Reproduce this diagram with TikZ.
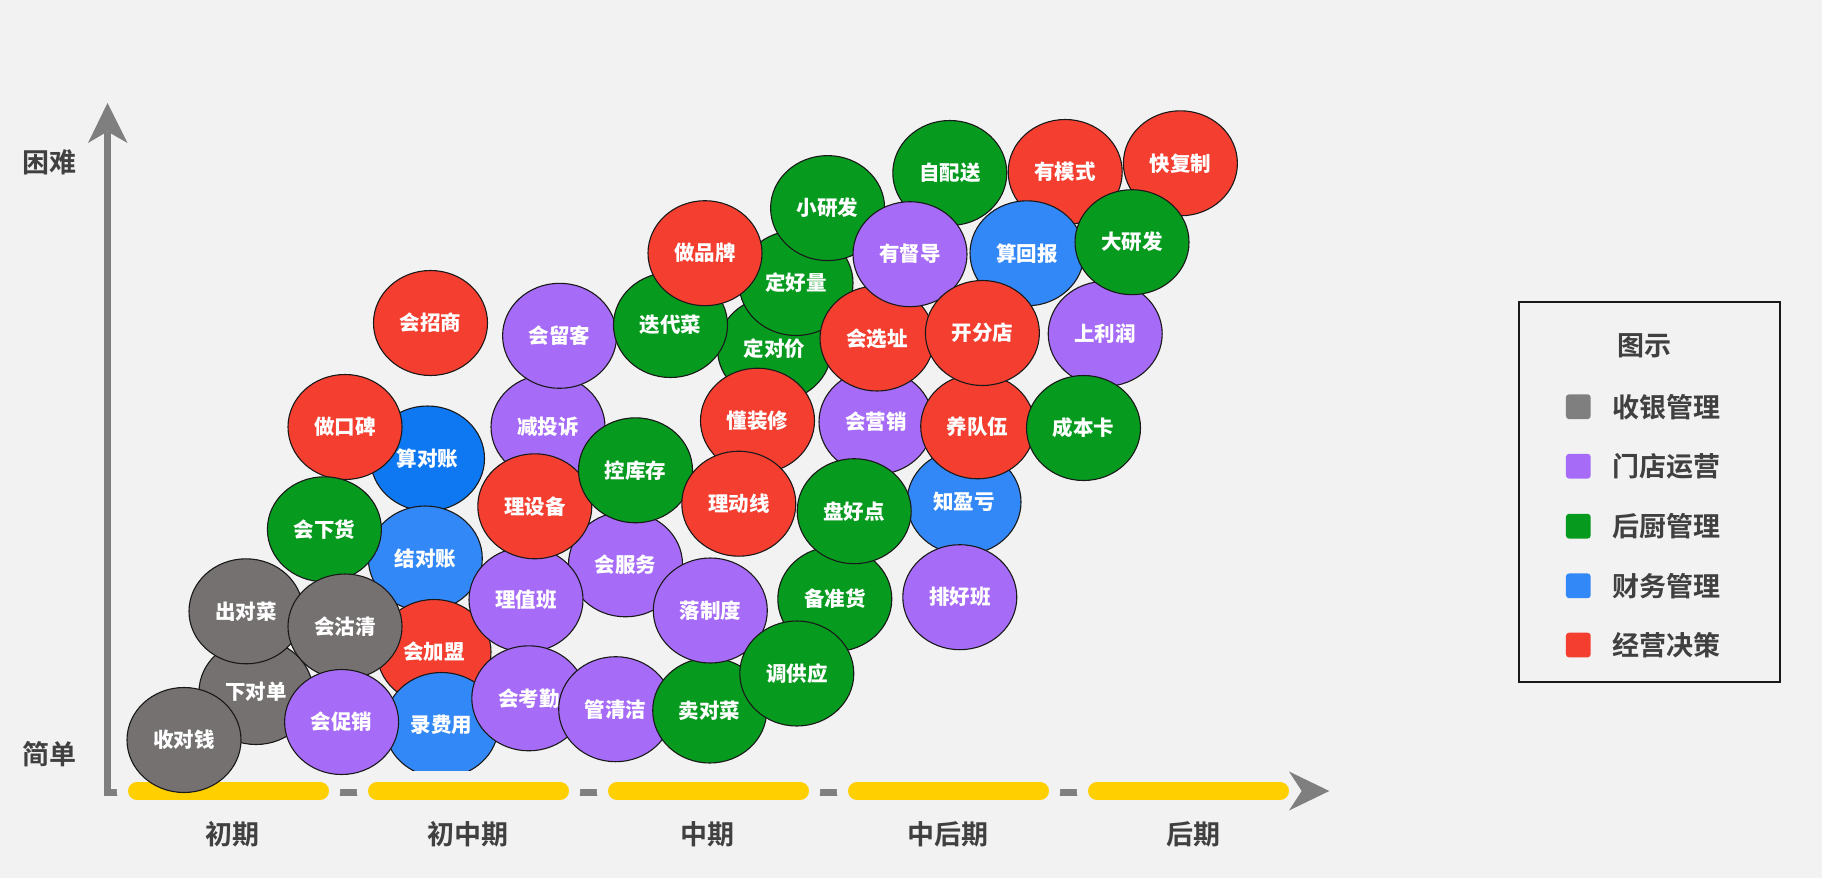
\documentclass[tikz,border=0pt]{standalone}
\usepackage{fontspec}
\setmainfont{Noto Sans CJK SC}[BoldFont={Noto Sans CJK SC Bold}]
\newfontfamily\heavyfont{Noto Sans CJK SC Black}
\usetikzlibrary{shapes.geometric}
\definecolor{bgc}{HTML}{F2F2F2}
\definecolor{cgray}{HTML}{767171}
\definecolor{cpur}{HTML}{A66CF7}
\definecolor{cgrn}{HTML}{069A1F}
\definecolor{cblu}{HTML}{3388F7}
\definecolor{cdblu}{HTML}{0E78F2}
\definecolor{cred}{HTML}{F43E30}
\definecolor{cyel}{HTML}{FFCF00}
\definecolor{caxis}{HTML}{7F7F7F}
\definecolor{ctext}{HTML}{404040}
\definecolor{lgray}{HTML}{7F7F7F}
\tikzset{
  bub/.style={ellipse, draw=black!90, line width=1.1pt, inner sep=0pt,
    minimum width=114pt, minimum height=105pt, text=white,
    font=\fontsize{20.5}{24}\selectfont\heavyfont},
  axlabel/.style={text=ctext, inner sep=0pt, font=\fontsize{27}{30}\selectfont\bfseries},
  lsq/.style={rounded corners=3pt, minimum width=24.7pt, minimum height=24.7pt, inner sep=0pt},
  ltext/.style={anchor=west, text=ctext, inner sep=0pt, font=\fontsize{27}{30}\selectfont\bfseries},
  ybar/.style={cyel, line width=17.7pt, line cap=round},
  ygap/.style={bgc, line width=40pt, line cap=round},
  gline/.style={caxis, line width=7pt}
}
\newcommand\bub[5]{\node[bub, fill=#1] (#2) at (#3,#4) {#5};}
\begin{document}
\begin{tikzpicture}[x=1pt,y=-1pt]
\fill[bgc] (0,0) rectangle (1822,878);
\useasboundingbox (0,0) rectangle (1822,878);
% axes
\coordinate (ytop) at (107.5,132);
\coordinate (orig) at (107.5,792);
\coordinate (xend) at (1300,792);
\draw[gline] (ytop) -- (orig) -- (xend);
% yellow stage bars
\foreach \s in {128,368,608,848,1088}{
  \draw[ygap] (\s+8.85,791) -- (\s+192.15,791);
}
\foreach \s in {128,368,608,848,1088}{
  \draw[ybar] (\s+8.85,791) -- (\s+192.15,791);
}
% arrowheads
\fill[caxis] (107.5,103) -- (88,143) -- (107.5,131.5) -- (127.5,143) -- cycle;
\fill[caxis] (1329.3,791) -- (1289,771.5) -- (1301.7,791) -- (1289,810.5) -- cycle;
% axis labels
\node[axlabel] (hard) at (49.4,162.5) {困难};
\node[axlabel] (easy) at (49.4,754) {简单};
\node[axlabel] (p1) at (232.5,834) {初期};
\node[axlabel] (p2) at (468,834) {初中期};
\node[axlabel] (p3) at (707.7,834) {中期};
\node[axlabel] (p4) at (948.2,834) {中后期};
\node[axlabel] (p5) at (1193.3,834) {后期};
% bubbles (back to front)
\bub{cgray}{b01}{256}{692}{下对单}
\bub{cgray}{b02}{246}{611.3}{出对菜}
\bub{cgray}{b03}{184}{740}{收对钱}
\bub{cdblu}{b04}{427.5}{458.5}{算对账}
\bub{cred}{b05}{345}{427}{做口碑}
\bub{cblu}{b07}{425.3}{558.5}{结对账}
\bub{cgrn}{b06}{324.4}{529.3}{会下货}
\bub{cred}{b08}{434}{652}{会加盟}
\bub{cgray}{b09}{345}{626.5}{会沽清}
\begin{scope}
\clip (300,600) rectangle (560,770.7);
\bub{cblu}{b10}{441.5}{725}{录费用}
\end{scope}
\bub{cpur}{b11}{341.6}{722}{会促销}
\bub{cred}{b12}{430.5}{323}{会招商}
\bub{cpur}{b14}{548}{427}{减投诉}
\bub{cpur}{b13}{559.6}{335.8}{会留客}
\bub{cpur}{b15}{625.5}{564.3}{会服务}
\bub{cpur}{b16}{526}{599.7}{理值班}
\bub{cred}{b17}{534.8}{506.3}{理设备}
\bub{cgrn}{b18}{635.5}{470.3}{控库存}
\bub{cpur}{b19}{528.8}{698.3}{会考勤}
\bub{cpur}{b20}{615.7}{709.2}{管清洁}
\bub{cgrn}{b21}{709.7}{710.5}{卖对菜}
\bub{cpur}{b22}{710.3}{610.5}{落制度}
\bub{cgrn}{b23}{834.8}{599}{备准货}
\bub{cgrn}{b24}{796.8}{673.5}{调供应}
\bub{cgrn}{b25}{774.5}{349}{定对价}
\bub{cgrn}{b26}{670.5}{325}{迭代菜}
\bub{cgrn}{b27}{796}{283}{定好量}
\bub{cred}{b28}{705}{253.2}{做品牌}
\bub{cgrn}{b29}{827.6}{208.1}{小研发}
\bub{cred}{b30}{757.5}{420.7}{懂装修}
\bub{cred}{b31}{738.8}{503.7}{理动线}
\bub{cpur}{b32}{876}{422}{会营销}
\bub{cblu}{b34}{964}{502}{知盈亏}
\bub{cgrn}{b33}{854.2}{511.2}{盘好点}
\bub{cpur}{b35}{959.8}{597.2}{排好班}
\bub{cgrn}{b36}{949.8}{173}{自配送}
\bub{cred}{b37}{1065.2}{172}{有模式}
\bub{cred}{b38}{1180.4}{163.3}{快复制}
\bub{cblu}{b39}{1027}{253.3}{算回报}
\bub{cred}{b40}{877}{338.5}{会选址}
\bub{cpur}{b41}{910}{254.2}{有督导}
\bub{cred}{b42}{977.7}{426.3}{养队伍}
\bub{cred}{b43}{982.4}{333}{开分店}
\bub{cpur}{b44}{1105.2}{333.8}{上利润}
\bub{cgrn}{b45}{1083.5}{428}{成本卡}
\bub{cgrn}{b46}{1132}{242.2}{大研发}
% legend
\node[draw=black!90, line width=2pt, minimum width=260.7pt, minimum height=380pt, inner sep=0pt] (legend) at (1649.65,491.7) {};
\node[axlabel] (ltitle) at (1644,345.8) {图示};
\node[lsq, fill=lgray] (s1) at (1578.3,406.7) {};
\node[lsq, fill=cpur] (s2) at (1578.3,466.2) {};
\node[lsq, fill=cgrn] (s3) at (1578.3,526.2) {};
\node[lsq, fill=cblu] (s4) at (1578.3,585.8) {};
\node[lsq, fill=cred] (s5) at (1578.3,645) {};
\node[ltext] (t1) at (1612.7,406.7) {收银管理};
\node[ltext] (t2) at (1612.7,466.2) {门店运营};
\node[ltext] (t3) at (1612.7,526.2) {后厨管理};
\node[ltext] (t4) at (1612.7,585.8) {财务管理};
\node[ltext] (t5) at (1612.7,645) {经营决策};
\end{tikzpicture}
\end{document}
